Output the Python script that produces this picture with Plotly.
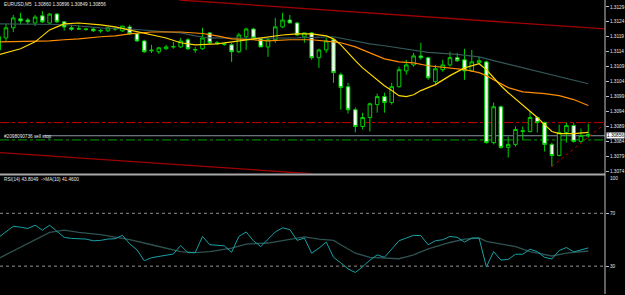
import plotly.graph_objects as go

# ---------------- data ----------------
symbol_header = "EURUSD,M5  1.30860 1.30896 1.30849 1.30856"
order_label = "#2098090736 sell stop"
rsi_label = "RSI(14) 43.8049  ->MA(10) 41.4600"

bar_idx = list(range(82))
opens = [
    1.31143, 1.31183, 1.31217, 1.31247, 1.31243, 1.31233, 1.31257, 1.31233, 1.31263, 1.31237,
    1.31217, 1.31214, 1.31213, 1.31213, 1.31208, 1.31207, 1.31214, 1.31207, 1.31220, 1.31197,
    1.31173, 1.31140, 1.31137, 1.31147, 1.31153, 1.31153, 1.31177, 1.31143, 1.31147, 1.31200,
    1.31167, 1.31163, 1.31160, 1.31137, 1.31187, 1.31213, 1.31180, 1.31153, 1.31177, 1.31220,
    1.31243, 1.31233, 1.31187, 1.31200, 1.31117, 1.31143, 1.31177, 1.31060, 1.31020, 1.30943,
    1.30887, 1.30917, 1.30960, 1.30987, 1.30967, 1.31020, 1.31073, 1.31093, 1.31123, 1.31117,
    1.31037, 1.31077, 1.31093, 1.31117, 1.31110, 1.31073, 1.31100, 1.31103, 1.30833, 1.30953,
    1.30817, 1.30827, 1.30873, 1.30870, 1.30917, 1.30900, 1.30827, 1.30790, 1.30867, 1.30890,
    1.30837, 1.30860]
highs = [
    1.31193, 1.31230, 1.31260, 1.31267, 1.31250, 1.31260, 1.31273, 1.31267, 1.31267, 1.31240,
    1.31227, 1.31227, 1.31217, 1.31217, 1.31213, 1.31220, 1.31220, 1.31223, 1.31227, 1.31200,
    1.31177, 1.31160, 1.31153, 1.31160, 1.31170, 1.31183, 1.31183, 1.31153, 1.31217, 1.31203,
    1.31173, 1.31167, 1.31167, 1.31200, 1.31217, 1.31217, 1.31183, 1.31183, 1.31250, 1.31267,
    1.31260, 1.31237, 1.31200, 1.31203, 1.31147, 1.31183, 1.31180, 1.31067, 1.31033, 1.30950,
    1.30933, 1.30967, 1.30997, 1.31000, 1.31033, 1.31087, 1.31110, 1.31133, 1.31167, 1.31120,
    1.31093, 1.31110, 1.31137, 1.31133, 1.31147, 1.31143, 1.31120, 1.31107, 1.30967, 1.30957,
    1.30853, 1.30887, 1.30887, 1.30937, 1.30920, 1.30903, 1.30833, 1.30893, 1.30900, 1.30900,
    1.30880, 1.30896]
lows = [
    1.31137, 1.31170, 1.31203, 1.31227, 1.31227, 1.31223, 1.31233, 1.31230, 1.31233, 1.31207,
    1.31207, 1.31210, 1.31207, 1.31203, 1.31200, 1.31203, 1.31207, 1.31203, 1.31193, 1.31170,
    1.31133, 1.31133, 1.31130, 1.31143, 1.31147, 1.31150, 1.31143, 1.31133, 1.31143, 1.31163,
    1.31160, 1.31157, 1.31103, 1.31133, 1.31143, 1.31177, 1.31153, 1.31120, 1.31167, 1.31217,
    1.31233, 1.31190, 1.31167, 1.31110, 1.31083, 1.31133, 1.31033, 1.30943, 1.30930, 1.30867,
    1.30877, 1.30870, 1.30933, 1.30933, 1.30960, 1.31017, 1.31060, 1.31087, 1.31110, 1.31043,
    1.31027, 1.31070, 1.31087, 1.31103, 1.31043, 1.31070, 1.31097, 1.30830, 1.30827, 1.30813,
    1.30783, 1.30820, 1.30843, 1.30867, 1.30867, 1.30803, 1.30753, 1.30787, 1.30833, 1.30833,
    1.30833, 1.30849]
closes = [
    1.31187, 1.31217, 1.31250, 1.31240, 1.31237, 1.31253, 1.31237, 1.31263, 1.31237, 1.31220,
    1.31212, 1.31213, 1.31212, 1.31207, 1.31207, 1.31217, 1.31213, 1.31223, 1.31197, 1.31173,
    1.31137, 1.31142, 1.31150, 1.31153, 1.31154, 1.31173, 1.31147, 1.31144, 1.31183, 1.31167,
    1.31165, 1.31162, 1.31137, 1.31193, 1.31213, 1.31183, 1.31153, 1.31177, 1.31220, 1.31243,
    1.31233, 1.31193, 1.31200, 1.31117, 1.31143, 1.31173, 1.31067, 1.31017, 1.30943, 1.30887,
    1.30917, 1.30963, 1.30987, 1.30967, 1.31020, 1.31077, 1.31093, 1.31123, 1.31117, 1.31050,
    1.31080, 1.31093, 1.31117, 1.31107, 1.31073, 1.31103, 1.31107, 1.30833, 1.30953, 1.30817,
    1.30827, 1.30877, 1.30870, 1.30917, 1.30900, 1.30827, 1.30790, 1.30867, 1.30890, 1.30837,
    1.30857, 1.30856]

fast_idx = [0, 3, 5, 6, 7, 8, 9, 11, 14, 16, 18, 21, 23, 25, 27, 30, 32, 34, 37, 39,
            41, 43, 45, 46, 47, 48, 49, 50, 51, 52, 53, 54, 55, 56, 57, 58, 59, 60, 62, 64,
            66, 67, 68, 69, 70, 71, 72, 73, 74, 75, 76, 77, 79, 81]
fast_ma = [1.31127, 1.31147, 1.31170, 1.31190, 1.31210, 1.31220, 1.31230, 1.31233, 1.31227, 1.31220,
           1.31210, 1.31193, 1.31183, 1.31167, 1.31160, 1.31163, 1.31170, 1.31177, 1.31187, 1.31193,
           1.31197, 1.31197, 1.31190, 1.31180, 1.31160, 1.31133, 1.31107, 1.31083, 1.31063, 1.31043,
           1.31023, 1.31007, 1.30990, 1.30987, 1.30993, 1.31007, 1.31017, 1.31027, 1.31057, 1.31083,
           1.31097, 1.31077, 1.31050, 1.31023, 1.31000, 1.30980, 1.30957, 1.30937, 1.30917, 1.30893,
           1.30870, 1.30863, 1.30863, 1.30867]

slow_idx = [0, 7, 9, 11, 14, 16, 18, 21, 25, 28, 30, 32, 35, 37, 40, 43, 46, 47, 49, 51,
            53, 55, 57, 59, 62, 64, 66, 67, 68, 70, 72, 75, 77, 79, 81]
slow_ma = [1.31170, 1.31173, 1.31177, 1.31180, 1.31187, 1.31190, 1.31197, 1.31203, 1.31203, 1.31198,
           1.31190, 1.31180, 1.31177, 1.31173, 1.31177, 1.31177, 1.31170, 1.31167, 1.31153, 1.31133,
           1.31113, 1.31103, 1.31100, 1.31090, 1.31083, 1.31077, 1.31067, 1.31057, 1.31043, 1.31017,
           1.31003, 1.30997, 1.30990, 1.30977, 1.30957]

long_idx = [0, 9, 11, 14, 18, 21, 23, 25, 27, 29, 35, 41, 46, 49, 51, 53, 55, 59, 63, 66,
            68, 72, 76, 79, 81]
long_ma = [1.31230, 1.31228, 1.31223, 1.31217, 1.31213, 1.31207, 1.31203, 1.31200, 1.31190, 1.31183,
           1.31182, 1.31183, 1.31187, 1.31173, 1.31163, 1.31157, 1.31150, 1.31135, 1.31128, 1.31120,
           1.31107, 1.31083, 1.31060, 1.31043, 1.31030]

upper_channel_x = [24.8, 84.0]
upper_channel_y = [1.31310, 1.31212]
lower_channel_x = [0.0, 43.0]
lower_channel_y = [1.30800, 1.30729]
support_x = [76.0, 84.0]
support_y = [1.30753, 1.30910]

stop_level = 1.30900
order_level = 1.30842
bid_price = 1.30856

price_ticks = [1.31287, 1.31237, 1.31187, 1.31137, 1.31087, 1.31037,
               1.30987, 1.30937, 1.30887, 1.30837, 1.30787, 1.30737]
price_tick_text = ["1.3129", "1.3124", "1.3119", "1.3114", "1.3109", "1.3104",
                   "1.3099", "1.3094", "1.3089", "1.3084", "1.3079", "1.3074"]

rsi = [51.8, 56.0, 60.2, 59.5, 58.5, 61.0, 57.2, 61.0, 56.4, 51.8,
       51.0, 50.8, 50.5, 49.2, 49.5, 50.5, 50.8, 53.3, 46.9, 42.3,
       34.1, 36.4, 37.5, 38.5, 39.2, 45.6, 40.2, 40.2, 52.5, 46.2,
       46.0, 45.4, 40.5, 52.5, 55.9, 49.2, 44.8, 50.0, 55.9, 59.0,
       57.7, 49.5, 51.3, 39.8, 43.6, 48.2, 36.7, 32.5, 27.9, 25.2,
       29.5, 34.6, 38.5, 36.7, 42.8, 49.2, 51.3, 53.3, 53.1, 46.2,
       49.2, 50.0, 52.5, 51.8, 48.2, 51.3, 51.3, 29.5, 41.0, 34.6,
       35.1, 39.0, 39.0, 42.8, 41.0, 36.7, 35.4, 41.8, 44.1, 40.8,
       42.3, 43.8]
rsi_ma_idx = [0, 4, 7, 9, 11, 14, 16, 18, 21, 23, 25, 27, 29, 32, 34, 37, 39, 42, 44, 46,
              47, 49, 51, 53, 55, 56, 57, 59, 62, 64, 66, 67, 71, 73, 76, 78, 81]
rsi_ma = [35.9, 47.5, 55.6, 57.2, 55.6, 53.8, 52.1, 50.0, 46.2, 43.6, 41.0, 40.2, 41.0, 43.6,
          46.7, 47.5, 49.5, 52.1, 50.5, 49.5, 46.2, 39.8, 36.7, 35.9, 35.6, 37.0, 38.5, 43.1,
          47.9, 50.5, 51.3, 48.7, 44.8, 41.0, 37.7, 39.8, 41.46]
rsi_levels = [30, 70]

# ---------------- figure ----------------
W, H = 625, 295
FONT = "Liberation Sans"
TXT = "#e6e6e6"
CANDLE = "#00d000"
FS = 4.7

fig = go.Figure()

fig.add_trace(go.Candlestick(
    x=bar_idx, open=opens, high=highs, low=lows, close=closes,
    increasing=dict(line=dict(color=CANDLE, width=1), fillcolor="black"),
    decreasing=dict(line=dict(color=CANDLE, width=1), fillcolor="white"),
    whiskerwidth=0, xaxis="x", yaxis="y", hoverinfo="skip"))

for xs, ys, col in [(long_idx, long_ma, "#345858"),
                    (slow_idx, slow_ma, "#ff8c00"),
                    (fast_idx, fast_ma, "#ffd800")]:
    fig.add_trace(go.Scatter(x=xs, y=ys, mode="lines",
                             line=dict(color=col, width=1.2),
                             xaxis="x", yaxis="y", hoverinfo="skip"))

fig.add_trace(go.Scatter(x=upper_channel_x, y=upper_channel_y, mode="lines",
                         line=dict(color="#a00000", width=1.3), xaxis="x", yaxis="y"))
fig.add_trace(go.Scatter(x=lower_channel_x, y=lower_channel_y, mode="lines",
                         line=dict(color="#a00000", width=1.3), xaxis="x", yaxis="y"))
fig.add_trace(go.Scatter(x=support_x, y=support_y, mode="lines",
                         line=dict(color="#c00000", width=1, dash="dot"), xaxis="x", yaxis="y"))

fig.add_trace(go.Scatter(x=rsi_ma_idx, y=rsi_ma, mode="lines",
                         line=dict(color="#2f5252", width=1.3), xaxis="x2", yaxis="y2"))
fig.add_trace(go.Scatter(x=bar_idx, y=rsi, mode="lines",
                         line=dict(color="#16a0a6", width=1), xaxis="x2", yaxis="y2"))

price_dom = [121 / H, 1]
rsi_dom = [0, 119 / H]
xr = [0.18, 83.3]

fig.update_layout(
    width=W, height=H,
    margin=dict(l=0, r=16, t=0, b=0),
    paper_bgcolor="black", plot_bgcolor="black",
    showlegend=False, hovermode=False,
    font=dict(family=FONT, size=FS, color=TXT),
    xaxis=dict(domain=[0, 1], range=xr, visible=False, anchor="y",
               rangeslider=dict(visible=False)),
    xaxis2=dict(domain=[0, 1], range=xr, visible=False, anchor="y2", matches="x"),
    yaxis=dict(domain=price_dom, range=[1.30730, 1.31310], side="right",
               tickvals=price_ticks, ticktext=price_tick_text,
               tickfont=dict(size=FS, color=TXT, family=FONT),
               ticks="outside", ticklen=3, tickcolor="#c0c0c0",
               showgrid=False, zeroline=False, showline=False, anchor="x"),
    yaxis2=dict(domain=rsi_dom, range=[8.9, 98.7], side="right",
                tickvals=rsi_levels, ticktext=[str(v) for v in rsi_levels],
                tickfont=dict(size=FS, color=TXT, family=FONT),
                ticks="outside", ticklen=3, tickcolor="#c0c0c0",
                showgrid=False, zeroline=False, showline=False, anchor="x2"),
)

shapes = [
    dict(type="rect", xref="paper", yref="paper", x0=0, x1=1,
         y0=1 - 176 / H, y1=1 - 174 / H, fillcolor="#a8a8a8", line=dict(width=0)),
    dict(type="line", xref="paper", yref="paper", x0=1, x1=1, y0=0, y1=1,
         line=dict(color="#c0c0c0", width=1)),
    dict(type="line", xref="paper", yref="y", x0=0, x1=1, y0=stop_level, y1=stop_level,
         line=dict(color="#c00000", width=1, dash="dashdot"), layer="below"),
    dict(type="line", xref="paper", yref="y", x0=0, x1=1, y0=order_level, y1=order_level,
         line=dict(color="#00a000", width=1, dash="dashdot"), layer="below"),
    dict(type="line", xref="paper", yref="y", x0=44 / 609, x1=1, y0=bid_price, y1=bid_price,
         line=dict(color="#8794a4", width=1), layer="below"),
]
for lv in rsi_levels:
    shapes.append(dict(type="line", xref="paper", yref="y2", x0=0, x1=1, y0=lv, y1=lv,
                       line=dict(color="#909090", width=1, dash="dot"), layer="below"))
fig.update_layout(shapes=shapes)

ann = [
    dict(xref="paper", yref="paper", x=0.003, y=1 - 5 / H, text=symbol_header,
         xanchor="left", yanchor="middle", showarrow=False, font=dict(size=FS, color=TXT)),
    dict(xref="paper", yref="y", x=0.003, y=1.30855, text=order_label,
         xanchor="left", yanchor="middle", showarrow=False, font=dict(size=FS, color=TXT)),
    dict(xref="paper", yref="paper", x=0.003, y=1 - 180 / H, text=rsi_label,
         xanchor="left", yanchor="middle", showarrow=False, font=dict(size=FS, color=TXT)),
    dict(xref="paper", yref="y", x=1, y=bid_price, text="1.30856", xanchor="left",
         yanchor="middle", showarrow=False, bgcolor="white", borderpad=0, xshift=1,
         font=dict(size=FS, color="black")),
    dict(xref="paper", yref="paper", x=1, y=1 - 179 / H, text="100", xanchor="left",
         yanchor="middle", showarrow=False, xshift=3, font=dict(size=FS, color=TXT)),
]
fig.update_layout(annotations=ann)

fig.write_html("out.html")
